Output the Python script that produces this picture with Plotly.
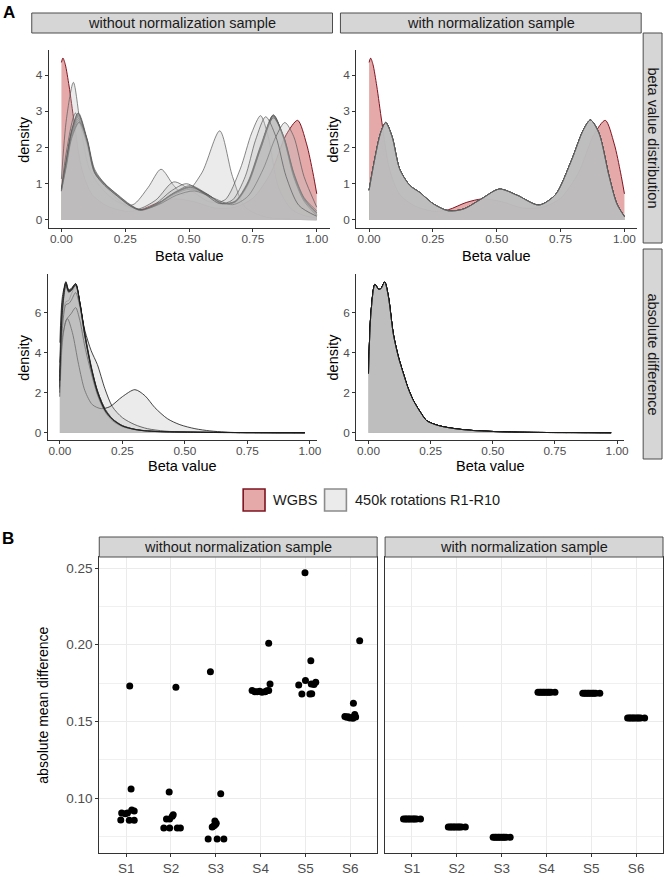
import plotly.graph_objects as go

W, H = 670, 876
FONT = "Liberation Sans, Arial, sans-serif"

# ---------------- DATA ----------------
beta_ticks = [0, 0.25, 0.5, 0.75, 1.0]
beta_tick_text = ["0.00", "0.25", "0.50", "0.75", "1.00"]
dens_ticks_top = [0, 1, 2, 3, 4]
dens_ticks_bot = [0, 2, 4, 6]

# WGBS beta value density (same in both columns)
wgbs_x = [0.0, 0.006, 0.015, 0.03, 0.05, 0.08, 0.12, 0.18, 0.25, 0.31, 0.38, 0.445, 0.52, 0.6, 0.68, 0.75, 0.82, 0.88, 0.925, 0.96, 0.985, 1.0]
wgbs_y = [4.35, 4.47, 4.3, 3.7, 2.7, 1.4, 0.7, 0.38, 0.24, 0.28, 0.48, 0.58, 0.5, 0.33, 0.35, 0.6, 1.3, 2.35, 2.75, 2.1, 1.3, 0.72]

# 450k rotations, without normalization sample (beta value distribution)
rot_R1_x = [0, 0.02, 0.047, 0.075, 0.11, 0.16, 0.22, 0.28, 0.34, 0.39, 0.44, 0.48, 0.55, 0.62, 0.67, 0.72, 0.8, 0.9, 1.0]
rot_R1_y = [1.13, 2.8, 3.8, 2.6, 1.4, 0.85, 0.5, 0.42, 0.9, 1.4, 0.95, 0.7, 1.3, 2.46, 1.2, 0.35, 0.08, 0.02, 0.0]
rot_R2_x = [0, 0.02, 0.055, 0.09, 0.13, 0.18, 0.25, 0.3, 0.37, 0.44, 0.51, 0.58, 0.64, 0.7, 0.745, 0.78, 0.81, 0.85, 0.9, 0.95, 1.0]
rot_R2_y = [0.85, 1.9, 2.95, 2.3, 1.3, 0.85, 0.4, 0.3, 0.55, 1.05, 0.8, 0.5, 0.55, 1.4, 2.4, 2.88, 2.3, 0.9, 0.3, 0.12, 0.05]
rot_main_x = [0, 0.02, 0.04, 0.067, 0.1, 0.13, 0.17, 0.22, 0.27, 0.31, 0.37, 0.44, 0.505, 0.57, 0.63, 0.68, 0.73, 0.78, 0.83, 0.87, 0.91, 0.95, 1.0]
rot_R3_y = [0.80, 1.65, 2.45, 2.95, 2.25, 1.35, 1.00, 0.68, 0.40, 0.27, 0.42, 0.75, 0.95, 0.72, 0.46, 0.52, 1.05, 2.05, 2.90, 2.25, 1.20, 0.55, 0.20]
rot_R4_y = [0.82, 1.60, 2.40, 2.85, 2.20, 1.33, 0.98, 0.67, 0.40, 0.27, 0.41, 0.73, 0.90, 0.70, 0.45, 0.50, 1.00, 2.00, 2.88, 2.30, 1.25, 0.58, 0.15]
rot_R5_y = [0.78, 1.58, 2.38, 2.80, 2.18, 1.32, 0.97, 0.66, 0.39, 0.26, 0.40, 0.72, 0.88, 0.70, 0.45, 0.49, 0.98, 1.95, 2.85, 2.32, 1.30, 0.62, 0.25]
rot_R6_y = [0.80, 1.55, 2.35, 2.75, 2.15, 1.30, 0.96, 0.66, 0.39, 0.26, 0.40, 0.70, 0.85, 0.69, 0.44, 0.48, 0.96, 1.98, 2.90, 2.28, 1.22, 0.56, 0.18]
rot_R7_y = [0.83, 1.55, 2.30, 2.70, 2.12, 1.30, 0.95, 0.65, 0.38, 0.26, 0.41, 0.74, 0.92, 0.71, 0.45, 0.50, 1.02, 2.02, 2.87, 2.26, 1.18, 0.52, 0.12]
rot_R8_y = [0.80, 1.62, 2.42, 2.90, 2.22, 1.34, 0.99, 0.68, 0.40, 0.27, 0.41, 0.73, 0.90, 0.71, 0.45, 0.50, 1.00, 1.96, 2.82, 2.30, 1.28, 0.60, 0.20]
rot_R9_x = [0, 0.02, 0.04, 0.07, 0.1, 0.13, 0.17, 0.22, 0.27, 0.31, 0.38, 0.45, 0.52, 0.59, 0.67, 0.73, 0.79, 0.84, 0.875, 0.91, 0.95, 1.0]
rot_R9_y = [0.80, 1.50, 2.25, 2.70, 2.25, 1.40, 1.00, 0.70, 0.42, 0.28, 0.42, 0.68, 0.80, 0.62, 0.42, 0.65, 1.40, 2.30, 2.69, 2.30, 1.20, 0.35]
rot_R10_x = [0, 0.02, 0.045, 0.065, 0.1, 0.13, 0.17, 0.22, 0.27, 0.31, 0.37, 0.43, 0.49, 0.56, 0.62, 0.67, 0.72, 0.76, 0.80, 0.84, 0.88, 0.93, 1.0]
rot_R10_y = [0.85, 1.70, 2.60, 2.95, 2.20, 1.30, 0.95, 0.65, 0.38, 0.27, 0.45, 0.80, 1.00, 0.72, 0.45, 0.55, 1.20, 2.20, 2.85, 2.30, 1.20, 0.40, 0.10]

# 450k rotations, with normalization sample (all ten rotations coincide)
norm_x = [0.0, 0.02, 0.045, 0.065, 0.09, 0.12, 0.16, 0.2, 0.25, 0.31, 0.37, 0.44, 0.51, 0.58, 0.665, 0.73, 0.79, 0.84, 0.867, 0.9, 0.94, 0.97, 1.0]
norm_y = [0.82, 1.6, 2.4, 2.69, 2.3, 1.4, 0.95, 0.75, 0.45, 0.25, 0.3, 0.58, 0.85, 0.68, 0.41, 0.7, 1.6, 2.5, 2.76, 2.4, 1.2, 0.45, 0.09]

# absolute difference densities, without normalization sample
diff_x = [0, 0.01, 0.024, 0.035, 0.045, 0.063, 0.08, 0.1, 0.125, 0.15, 0.18, 0.21, 0.25, 0.3, 0.35, 0.42, 0.5, 0.6, 0.75, 0.98]
diff_R1_y = [2.5, 6.2, 7.55, 7.15, 7.2, 7.45, 6.5, 4.9, 3.3, 2.1, 1.2, 0.7, 0.35, 0.17, 0.09, 0.05, 0.03, 0.015, 0.005, 0.0]
diff_R2_y = [3.0, 6.3, 7.5, 7.1, 7.15, 7.40, 6.45, 4.85, 3.25, 2.05, 1.15, 0.68, 0.34, 0.16, 0.08, 0.05, 0.03, 0.015, 0.005, 0.0]
diff_R3_y = [2.2, 5.6, 6.55, 6.6, 6.9, 7.35, 6.5, 4.95, 3.35, 2.1, 1.2, 0.7, 0.36, 0.17, 0.09, 0.05, 0.03, 0.015, 0.005, 0.0]
diff_R4_y = [3.5, 6.5, 7.45, 7.05, 7.1, 7.35, 6.4, 4.8, 3.2, 2.0, 1.1, 0.65, 0.33, 0.16, 0.08, 0.04, 0.02, 0.01, 0.004, 0.0]
diff_R5_y = [2.8, 6.0, 7.3, 7.0, 7.1, 7.42, 6.5, 4.9, 3.3, 2.1, 1.2, 0.7, 0.35, 0.17, 0.09, 0.05, 0.03, 0.015, 0.005, 0.0]
diff_R6_y = [2.0, 5.2, 6.4, 6.45, 6.6, 7.0, 6.3, 5.1, 4.1, 3.4, 2.2, 1.3, 0.75, 0.4, 0.2, 0.08, 0.03, 0.015, 0.005, 0.0]
diff_R7_y = [1.8, 4.5, 5.6, 5.8, 5.95, 6.25, 5.6, 4.3, 3.0, 1.9, 1.05, 0.6, 0.3, 0.15, 0.08, 0.04, 0.02, 0.01, 0.004, 0.0]
diff_R9_y = [4.5, 6.8, 7.5, 7.1, 7.15, 7.45, 6.45, 4.85, 3.25, 2.05, 1.15, 0.68, 0.34, 0.16, 0.08, 0.05, 0.03, 0.015, 0.005, 0.0]
diff_R10_y = [2.6, 6.1, 7.4, 7.05, 7.1, 7.38, 6.42, 4.82, 3.22, 2.02, 1.12, 0.66, 0.33, 0.16, 0.08, 0.04, 0.02, 0.01, 0.004, 0.0]
diff_R8_x = [0, 0.012, 0.03, 0.05, 0.075, 0.1, 0.13, 0.165, 0.2, 0.25, 0.3, 0.34, 0.38, 0.43, 0.48, 0.54, 0.6, 0.66, 0.72]
diff_R8_y = [2.3, 4.9, 5.7, 5.0, 3.4, 2.1, 1.4, 1.2, 1.3, 1.8, 2.15, 1.85, 1.25, 0.7, 0.4, 0.2, 0.09, 0.03, 0.0]

# absolute difference density, with normalization sample
diff_norm_x = [0, 0.01, 0.026, 0.041, 0.05, 0.065, 0.08, 0.1, 0.12, 0.141, 0.16, 0.181, 0.21, 0.234, 0.27, 0.3, 0.36, 0.43, 0.5, 0.56, 0.7, 0.85, 0.976]
diff_norm_y = [2.96, 6.0, 7.41, 7.16, 7.2, 7.53, 6.8, 4.92, 3.8, 2.93, 2.2, 1.6, 1.0, 0.6, 0.4, 0.3, 0.18, 0.1, 0.06, 0.03, 0.01, 0.005, 0.0]

# Panel B: absolute mean difference per sample (10 rotations each)
samples = ["S1", "S2", "S3", "S4", "S5", "S6"]
amd_without_S1 = [0.1731, 0.1059, 0.0857, 0.0903, 0.0903, 0.0922, 0.0916, 0.0856, 0.0856, 0.0898]
amd_without_S2 = [0.1722, 0.1039, 0.0805, 0.0805, 0.0805, 0.0805, 0.0863, 0.0863, 0.0881, 0.0892]
amd_without_S3 = [0.1824, 0.1028, 0.0733, 0.0733, 0.0733, 0.0811, 0.0820, 0.0850, 0.0836, 0.0828]
amd_without_S4 = [0.2009, 0.1744, 0.1701, 0.1694, 0.1690, 0.1694, 0.1701, 0.1693, 0.1697, 0.1700]
amd_without_S5 = [0.2470, 0.1896, 0.1738, 0.1766, 0.1744, 0.1755, 0.1679, 0.1679, 0.1680, 0.1740]
amd_without_S6 = [0.2026, 0.1618, 0.1527, 0.1522, 0.1525, 0.1545, 0.1532, 0.1530, 0.1520, 0.1528]
jit_without_S1 = [0.08, 0.11, -0.12, -0.10, 0.03, 0.125, 0.18, 0.07, 0.18, -0.02]
jit_without_S2 = [0.11, -0.04, -0.16, -0.03, 0.14, 0.21, -0.10, -0.03, 0.03, 0.05]
jit_without_S3 = [-0.12, 0.11, -0.17, 0.03, 0.18, -0.08, -0.04, -0.02, 0.01, -0.01]
jit_without_S4 = [0.18, 0.21, -0.19, -0.08, 0.03, 0.10, 0.18, -0.13, -0.02, 0.14]
jit_without_S5 = [-0.01, 0.12, -0.15, 0.00, 0.13, 0.23, -0.08, 0.10, 0.14, 0.19]
jit_without_S6 = [0.21, 0.07, -0.08, -0.01, 0.04, 0.10, -0.12, -0.05, 0.06, 0.12]

amd_with_S1 = [0.0863, 0.0863, 0.0863, 0.0863, 0.0863, 0.0863, 0.0863, 0.0863, 0.0863, 0.0863]
amd_with_S2 = [0.0811, 0.0811, 0.0811, 0.0811, 0.0811, 0.0811, 0.0811, 0.0811, 0.0811, 0.0811]
amd_with_S3 = [0.0744, 0.0744, 0.0744, 0.0744, 0.0744, 0.0744, 0.0744, 0.0744, 0.0744, 0.0744]
amd_with_S4 = [0.1690, 0.1690, 0.1690, 0.1690, 0.1690, 0.1690, 0.1690, 0.1690, 0.1690, 0.1690]
amd_with_S5 = [0.1683, 0.1683, 0.1683, 0.1683, 0.1683, 0.1683, 0.1683, 0.1683, 0.1683, 0.1683]
amd_with_S6 = [0.1523, 0.1523, 0.1523, 0.1523, 0.1523, 0.1523, 0.1523, 0.1523, 0.1523, 0.1523]
jit_with = [-0.19, -0.15, -0.12, -0.08, -0.05, -0.01, 0.03, 0.06, 0.10, 0.19]

amd_ticks = [0.10, 0.15, 0.20, 0.25]
amd_tick_text = ["0.10", "0.15", "0.20", "0.25"]
amd_minor = [0.075, 0.125, 0.175, 0.225]

# ---------------- STYLE / LAYOUT HELPERS ----------------
RED_FILL = "rgba(190,30,30,0.38)"
RED_LINE = "#7d1420"
GREY_FILL = "rgba(190,190,190,0.3)"
GREY_LINE_TOP = "rgba(90,90,90,0.8)"
GREY_LINE_BOT = "rgba(25,25,25,0.9)"
STRIP_FILL = "#D6D6D6"
STRIP_LINE = "#4D4D4D"


def px(x):
    return x / W


def py(y):
    return 1 - y / H


fig = go.Figure()


def ax_name(i, letter):
    return letter if i == 1 else f"{letter}{i}"


def density(xs, ys, i, fill, line, width=0.9):
    fig.add_trace(go.Scatter(
        x=xs, y=ys, mode="lines",
        line=dict(shape="spline", smoothing=0.8, color=line, width=width),
        fill="tozeroy", fillcolor=fill,
        xaxis=ax_name(i, "x"), yaxis=ax_name(i, "y"),
        showlegend=False, hoverinfo="skip"))


# Top-left: without normalization, beta value distribution
density(wgbs_x, wgbs_y, 1, RED_FILL, RED_LINE, 1.0)
rot_raw = [(rot_R1_x, rot_R1_y), (rot_R2_x, rot_R2_y), (rot_main_x, rot_R3_y), (rot_main_x, rot_R4_y),
           (rot_main_x, rot_R5_y), (rot_main_x, rot_R6_y), (rot_main_x, rot_R7_y), (rot_main_x, rot_R8_y),
           (rot_R9_x, rot_R9_y), (rot_R10_x, rot_R10_y)]
for xs, ys in rot_raw:
    density(xs, ys, 1, GREY_FILL, GREY_LINE_TOP)

# Top-right: with normalization
density(wgbs_x, wgbs_y, 2, RED_FILL, RED_LINE, 1.0)
for r in range(10):
    density(norm_x, norm_y, 2, GREY_FILL, GREY_LINE_TOP)

# Bottom-left: absolute difference without normalization
diff_raw = [(diff_x, diff_R1_y), (diff_x, diff_R2_y), (diff_x, diff_R3_y), (diff_x, diff_R4_y),
            (diff_x, diff_R5_y), (diff_x, diff_R6_y), (diff_x, diff_R7_y), (diff_R8_x, diff_R8_y),
            (diff_x, diff_R9_y), (diff_x, diff_R10_y)]
for xs, ys in diff_raw:
    density(xs, ys, 3, GREY_FILL, GREY_LINE_BOT)

# Bottom-right: absolute difference with normalization
for r in range(10):
    density(diff_norm_x, diff_norm_y, 4, GREY_FILL, GREY_LINE_BOT)

# Panel B points
without_vals = [amd_without_S1, amd_without_S2, amd_without_S3, amd_without_S4, amd_without_S5, amd_without_S6]
without_jit = [jit_without_S1, jit_without_S2, jit_without_S3, jit_without_S4, jit_without_S5, jit_without_S6]
with_vals = [amd_with_S1, amd_with_S2, amd_with_S3, amd_with_S4, amd_with_S5, amd_with_S6]
for k, s in enumerate(samples):
    fig.add_trace(go.Scatter(
        x=[k + 1 + j for j in without_jit[k]], y=without_vals[k], mode="markers",
        marker=dict(color="black", size=7), xaxis="x5", yaxis="y5",
        showlegend=False, name=s))
    fig.add_trace(go.Scatter(
        x=[k + 1 + j for j in jit_with], y=with_vals[k], mode="markers",
        marker=dict(color="black", size=7), xaxis="x6", yaxis="y6",
        showlegend=False, name=s))


def a_axis(dom, rng, tv, tt, anchor, is_x):
    d = dict(domain=dom, range=rng, tickvals=tv, ticktext=tt, anchor=anchor,
             showline=True, linecolor="#333333", linewidth=1.1,
             ticks="outside", ticklen=3, tickwidth=1.1, tickcolor="#333333",
             tickfont=dict(size=11.8, color="#4D4D4D", family=FONT),
             showgrid=False, zeroline=False, fixedrange=True)
    if is_x:
        d["ticklabelstandoff"] = -3
    return d


top_y = [py(228), py(50)]
bot_y = [py(440), py(274)]
yr_top = [-0.224, 4.694]
yr_bot = [-0.366, 7.93]
xr_top = [-0.05, 1.05]
xr_bot = [-0.049, 1.027]
top_lbl = [str(v) for v in dens_ticks_top]
bot_lbl = [str(v) for v in dens_ticks_bot]

layout = dict(
    width=W, height=H, margin=dict(l=0, r=0, t=0, b=0),
    paper_bgcolor="white", plot_bgcolor="white", showlegend=False,
    font=dict(family=FONT, color="#1A1A1A"),
    xaxis=a_axis([px(49), px(332)], xr_top, beta_ticks, beta_tick_text, "y", True),
    yaxis=a_axis(top_y, yr_top, dens_ticks_top, top_lbl, "x", False),
    xaxis2=a_axis([px(359), px(642)], xr_top, beta_ticks, beta_tick_text, "y2", True),
    yaxis2=a_axis(top_y, yr_top, dens_ticks_top, top_lbl, "x2", False),
    xaxis3=a_axis([px(48), px(319)], xr_bot, beta_ticks, beta_tick_text, "y3", True),
    yaxis3=a_axis(bot_y, yr_bot, dens_ticks_bot, bot_lbl, "x3", False),
    xaxis4=a_axis([px(359), px(628.5)], xr_bot, beta_ticks, beta_tick_text, "y4", True),
    yaxis4=a_axis(bot_y, yr_bot, dens_ticks_bot, bot_lbl, "x4", False),
)


def b_xaxis(dom, anchor):
    return dict(domain=dom, range=[0.4, 6.6], tickvals=[1, 2, 3, 4, 5, 6], ticktext=samples,
                anchor=anchor, showline=True, mirror=True, linecolor="#333333", linewidth=1.2,
                ticks="outside", ticklen=3, tickwidth=1.1, tickcolor="#333333",
                tickfont=dict(size=13.5, color="#4D4D4D", family=FONT),
                showgrid=True, gridcolor="#EBEBEB", gridwidth=1.1, zeroline=False, fixedrange=True)


def b_yaxis(dom, anchor, labels):
    d = dict(domain=dom, range=[0.0642, 0.2572], tickvals=amd_ticks, ticktext=amd_tick_text,
             anchor=anchor, showline=True, mirror=True, linecolor="#333333", linewidth=1.2,
             ticks="outside" if labels else "", ticklen=3, tickwidth=1.1, tickcolor="#333333",
             showticklabels=labels,
             tickfont=dict(size=13.5, color="#4D4D4D", family=FONT),
             showgrid=True, gridcolor="#EBEBEB", gridwidth=1.1, zeroline=False, fixedrange=True,
             minor=dict(tickvals=amd_minor, showgrid=True, gridcolor="#F0F0F0", gridwidth=0.6, ticks=""))
    return d


b_dom_y = [py(853), py(557)]
layout["xaxis5"] = b_xaxis([px(100), px(380)], "y5")
layout["yaxis5"] = b_yaxis(b_dom_y, "x5", True)
layout["xaxis6"] = b_xaxis([px(388), px(668)], "y6")
layout["yaxis6"] = b_yaxis(b_dom_y, "x6", False)
fig.update_layout(**layout)

shapes = []
annotations = []


def strip(x0, x1, y0, y1, text, vertical=False):
    shapes.append(dict(type="rect", xref="paper", yref="paper", x0=px(x0), x1=px(x1), y0=py(y1), y1=py(y0),
                       fillcolor=STRIP_FILL, line=dict(color=STRIP_LINE, width=1)))
    annotations.append(dict(xref="paper", yref="paper", x=px((x0 + x1) / 2), y=py((y0 + y1) / 2),
                            text=text, showarrow=False, textangle=90 if vertical else 0,
                            xanchor="center", yanchor="middle",
                            font=dict(size=14.5, color="#1A1A1A", family=FONT)))


def label(x, y, text, size=14.5, angle=0, color="#000000", bold=False):
    annotations.append(dict(xref="paper", yref="paper", x=px(x), y=py(y),
                            text=f"<b>{text}</b>" if bold else text, showarrow=False,
                            textangle=angle, xanchor="center", yanchor="middle",
                            font=dict(size=size, color=color, family=FONT)))


# Panel A strips
strip(32, 335, 13, 33, "without normalization sample")
strip(343, 646, 13, 33, "with normalization sample")
strip(648, 667, 33, 243, "beta value distribution", vertical=True)
strip(648, 667, 249, 459, "absolute difference", vertical=True)

# Panel A axis titles
for xc in (24, 335):
    label(xc, 139, "density", angle=-90)
    label(xc, 357, "density", angle=-90)
label(190.5, 256, "Beta value")
label(500.5, 256, "Beta value")
label(183.5, 466, "Beta value")
label(494, 466, "Beta value")

# Legend
shapes.append(dict(type="rect", xref="paper", yref="paper", x0=px(245), x1=px(267), y0=py(511), y1=py(489),
                   fillcolor=RED_FILL, line=dict(color=RED_LINE, width=1.6)))
annotations.append(dict(xref="paper", yref="paper", x=px(273), y=py(500), text="WGBS", showarrow=False,
                        xanchor="left", yanchor="middle", font=dict(size=14.5, color="#1A1A1A", family=FONT)))
shapes.append(dict(type="rect", xref="paper", yref="paper", x0=px(327), x1=px(349), y0=py(511), y1=py(489),
                   fillcolor=GREY_FILL, line=dict(color="#8C8C8C", width=1.6)))
annotations.append(dict(xref="paper", yref="paper", x=px(356), y=py(500), text="450k rotations R1-R10",
                        showarrow=False, xanchor="left", yanchor="middle",
                        font=dict(size=14.5, color="#1A1A1A", family=FONT)))

# Panel B strips and title
strip(100, 380, 537, 557, "without normalization sample")
strip(388, 668, 537, 557, "with normalization sample")
label(43, 705, "absolute mean difference", size=14, angle=-90)

# Panel letters
label(9, 12, "A", size=17, bold=True)
label(8, 538, "B", size=17, bold=True)

fig.update_layout(shapes=shapes, annotations=annotations)
fig.write_html(
    "out.html",
    config={"displayModeBar": False},
    post_script="document.body.style.margin='0';document.body.style.padding='0';"
                "document.body.style.overflow='hidden';",
)
